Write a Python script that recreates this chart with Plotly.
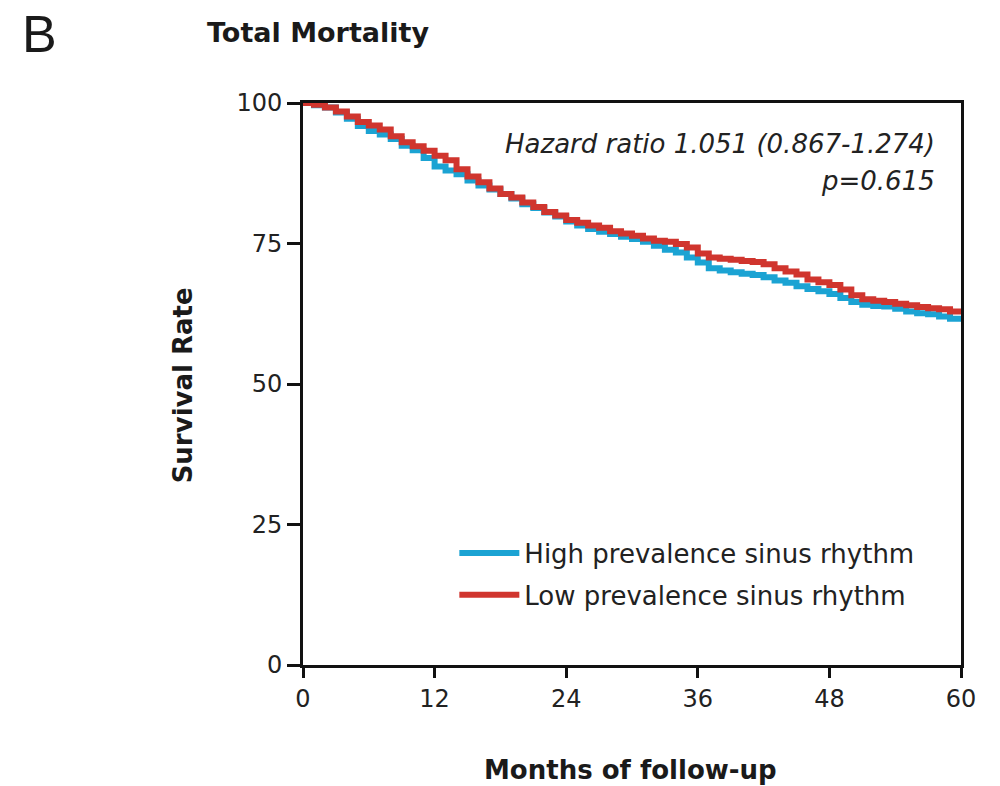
import plotly.graph_objects as go

months = list(range(0, 61))
high_sr = [100, 99.6, 99.2, 98.3, 97.2, 95.9, 95.0, 94.4, 93.6, 92.4, 91.6, 90.2, 88.7, 88.0, 87.3,
           86.2, 85.3, 84.6, 83.8, 83.0, 82.0, 81.3, 80.5, 79.8, 78.9, 78.2, 77.6, 77.1, 76.7, 76.2,
           75.8, 75.3, 74.6, 73.9, 73.4, 72.5, 71.6, 70.6, 70.2, 69.9, 69.6, 69.4, 69.0, 68.4, 68.0,
           67.4, 66.9, 66.5, 66.0, 65.3, 64.6, 64.1, 63.9, 63.8, 63.4, 62.9, 62.6, 62.4, 62.0, 61.6, 61.3]
low_sr = [100, 99.7, 99.2, 98.5, 97.6, 96.6, 96.0, 95.3, 94.1, 93.0, 92.3, 91.5, 90.6, 89.8, 88.2,
          86.9, 85.9, 84.8, 83.8, 83.2, 82.3, 81.5, 80.6, 80.0, 79.2, 78.7, 78.2, 77.8, 77.2, 76.8,
          76.4, 75.9, 75.5, 75.3, 74.9, 74.3, 73.2, 72.5, 72.3, 72.1, 71.9, 71.7, 71.3, 70.6, 70.0,
          69.5, 68.6, 68.1, 67.6, 66.8, 65.8, 65.1, 64.8, 64.6, 64.3, 64.0, 63.7, 63.5, 63.3, 62.9, 62.5]
x_ticks = [0, 12, 24, 36, 48, 60]
y_ticks = [0, 25, 50, 75, 100]

FONT = "DejaVu Sans, Liberation Sans, Arial, sans-serif"
BLUE = "#1BA3D3"
RED = "#D0352E"
INK = "#1a1a1a"

fig = go.Figure()
fig.add_trace(go.Scatter(x=months, y=high_sr, mode="lines", line=dict(color=BLUE, width=6, shape="hv"),
                         name="High prevalence sinus rhythm", legendgroup="a"))
fig.add_trace(go.Scatter(x=months, y=low_sr, mode="lines", line=dict(color=RED, width=6, shape="hv"),
                         name="Low prevalence sinus rhythm", legendgroup="b"))

fig.update_layout(
    width=1000, height=786,
    margin=dict(l=303, r=39, t=103, b=121),
    paper_bgcolor="white", plot_bgcolor="white",
    font=dict(family=FONT, color=INK),
    showlegend=True,
    legend=dict(x=0.23, y=0.241, xanchor="left", yanchor="top", bgcolor="rgba(0,0,0,0)",
                font=dict(size=26, color="#222"), traceorder="grouped", tracegroupgap=5,
                itemwidth=60),
    xaxis=dict(range=[0, 60], tickvals=x_ticks, ticks="outside", ticklen=10, tickwidth=2.5,
               tickcolor="#111", showline=True, linecolor="#111", linewidth=3, mirror=True,
               showgrid=False, zeroline=False, tickfont=dict(size=24, color="#222")),
    yaxis=dict(range=[0, 100], tickvals=y_ticks, ticks="outside", ticklen=13, tickwidth=2.5,
               tickcolor="#111", showline=True, linecolor="#111", linewidth=3, mirror=True,
               showgrid=False, zeroline=False, tickfont=dict(size=24, color="#222")),
    annotations=[
        dict(text="B", xref="paper", yref="paper", x=-0.43, y=1.122, xanchor="left", yanchor="middle",
             showarrow=False, font=dict(size=52, color=INK, family="Liberation Sans, Arial, sans-serif")),
        dict(text="<b>Total Mortality</b>", xref="paper", yref="paper", x=-0.149, y=1.126,
             xanchor="left", yanchor="middle", showarrow=False, font=dict(size=27, color=INK)),
        dict(text="<b>Months of follow-up</b>", xref="paper", yref="paper", x=0.497, y=-0.187,
             xanchor="center", yanchor="middle", showarrow=False, font=dict(size=26, color=INK)),
        dict(text="<b>Survival Rate</b>", xref="paper", yref="paper", x=-0.182, y=0.498,
             xanchor="center", yanchor="middle", showarrow=False, textangle=-90,
             font=dict(size=26, color=INK)),
        dict(text="<i>Hazard ratio 1.051 (0.867-1.274)</i>", xref="paper", yref="paper", x=0.963, y=0.927,
             xanchor="right", yanchor="middle", showarrow=False, font=dict(size=26, color="#222")),
        dict(text="<i>p=0.615</i>", xref="paper", yref="paper", x=0.963, y=0.861,
             xanchor="right", yanchor="middle", showarrow=False, font=dict(size=26, color="#222")),
    ],
)

fig.write_html("out.html")
